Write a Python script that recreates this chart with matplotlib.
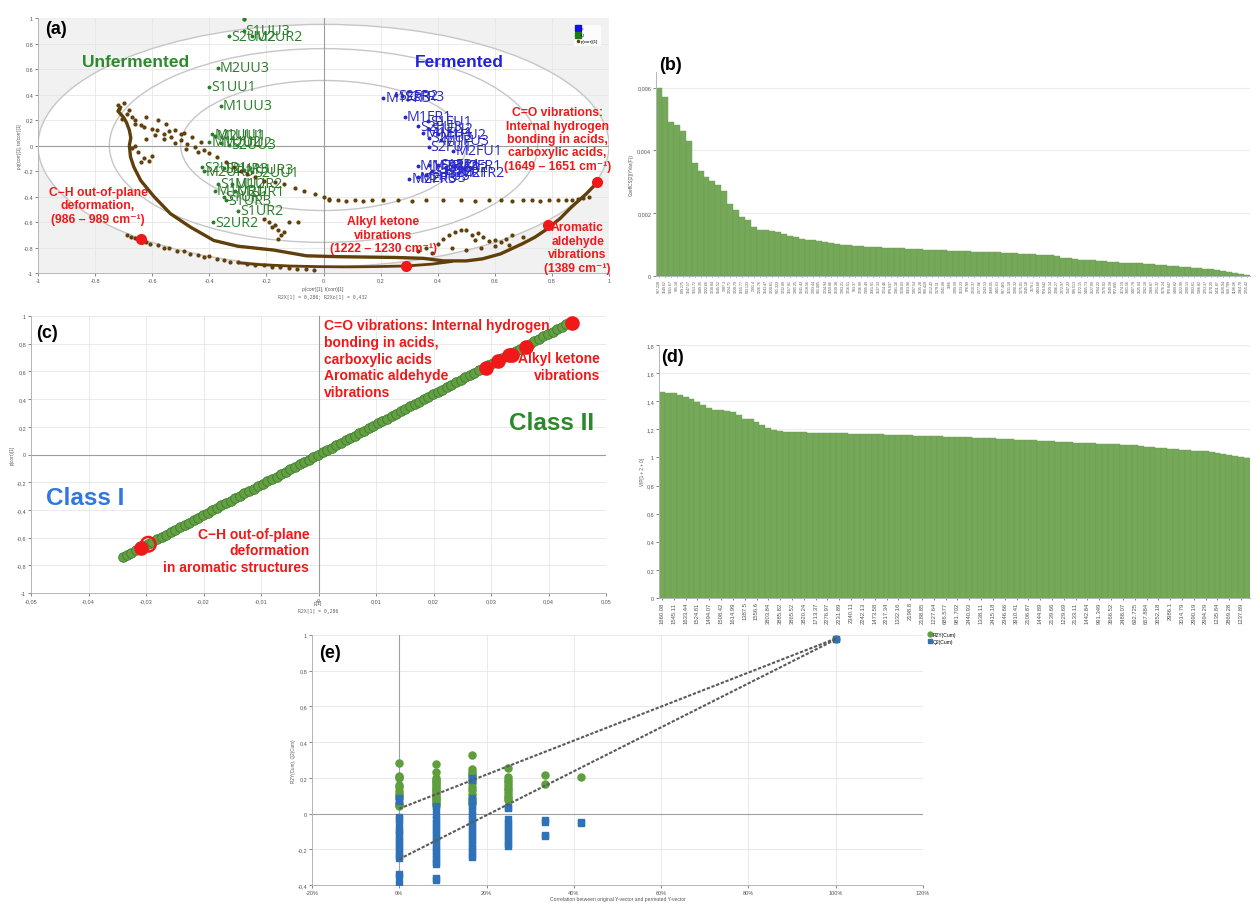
import matplotlib
matplotlib.use("Agg")
import matplotlib.pyplot as plt
from matplotlib.patches import Ellipse
from matplotlib.lines import Line2D

plt.rcParams['font.family'] = ['Liberation Sans', 'DejaVu Sans']

W, H = 1257, 904

# ---------------- (a) scores ----------------
unf_names = ["S1UU3", "S2UU2", "M2UR2", "M2UU3", "S1UU1", "M1UU3", "M1UU1", "M2UU1",
             "M1UU2", "M2UU2", "S2UU3", "S2UR1", "M2UR3", "S2UR3", "M1UR3", "S2UU1",
             "S1UU2", "M1UR2", "M1UR1", "M2UR1", "S1UR1", "S1UR3", "S1UR2", "S2UR2"]
unf_x = [-0.28, -0.33, -0.25, -0.37, -0.40, -0.36, -0.39, -0.38,
         -0.40, -0.36, -0.33, -0.425, -0.42, -0.35, -0.28, -0.25,
         -0.37, -0.32, -0.38, -0.31, -0.35, -0.34, -0.30, -0.386]
unf_y = [0.90, 0.855, 0.855, 0.61, 0.46, 0.31, 0.09, 0.075,
         0.03, 0.02, 0.005, -0.17, -0.20, -0.18, -0.19, -0.21,
         -0.30, -0.30, -0.355, -0.36, -0.40, -0.43, -0.51, -0.60]
unf_top_dot = (-0.28, 0.99)

fer_names = ["M1FR3", "S2FR2", "S2FR3", "M1FR1", "S1FU1", "S2FU3", "S1FU2", "M1FU1",
             "M1FU2", "S2FU2", "M1FU3", "S2FU1", "M2FU1", "M2FU2", "M1FR2", "S1FR1",
             "S1FR2", "M2FR1", "S1FR3", "S2FR1", "M2FR2", "M2FR3", "M2FU3", "S1FU3"]
fer_x = [0.209, 0.255, 0.275, 0.284, 0.365, 0.33, 0.37, 0.35,
         0.40, 0.37, 0.41, 0.368, 0.455, 0.37, 0.33, 0.40,
         0.43, 0.46, 0.38, 0.43, 0.47, 0.30, 0.33, 0.36]
fer_y = [0.374, 0.395, 0.385, 0.227, 0.19, 0.15, 0.13, 0.10,
         0.09, 0.06, 0.04, -0.01, -0.04, -0.155, -0.157, -0.15,
         -0.17, -0.16, -0.20, -0.21, -0.215, -0.26, -0.25, -0.235]

# ---------------- (a) loadings (brown) ----------------
load_main_x = [-0.71, -0.72, -0.70, -0.69, -0.68, -0.675, -0.68, -0.676, -0.664, -0.64,
               -0.594, -0.536, -0.466, -0.384, -0.30, -0.175, -0.06, 0.05, 0.15, 0.25,
               0.35, 0.42, 0.50, 0.557, 0.62, 0.697, 0.74, 0.783, 0.83, 0.868, 0.92, 0.96]
load_main_y = [0.30, 0.27, 0.22, 0.18, 0.12, 0.06, 0.00, -0.09, -0.17, -0.275,
               -0.40, -0.535, -0.64, -0.745, -0.79, -0.82, -0.865, -0.872, -0.875, -0.878,
               -0.885, -0.905, -0.905, -0.889, -0.85, -0.77, -0.72, -0.655, -0.57, -0.484, -0.38, -0.288]
load_low_x = [-0.30, -0.22, -0.12, -0.02, 0.08, 0.18, 0.29, 0.38, 0.45]
load_low_y = [-0.92, -0.935, -0.945, -0.95, -0.952, -0.95, -0.945, -0.93, -0.91]
load_edge_x = [-0.69, -0.676, -0.66, -0.62, -0.606, -0.58, -0.559, -0.54, -0.512, -0.49,
               -0.466, -0.44, -0.42, -0.40, -0.372, -0.35, -0.326, -0.30, -0.267, -0.24,
               -0.209, -0.18, -0.151, -0.12, -0.093, -0.06, -0.035]
load_edge_y = [-0.70, -0.72, -0.725, -0.755, -0.77, -0.78, -0.80, -0.80, -0.824, -0.83,
               -0.85, -0.855, -0.876, -0.87, -0.889, -0.90, -0.915, -0.91, -0.928, -0.935,
               -0.941, -0.95, -0.954, -0.96, -0.967, -0.97, -0.975]
load_diag_x = [-0.66, -0.64, -0.629, -0.60, -0.582, -0.56, -0.535, -0.50, -0.477, -0.45,
               -0.419, -0.40, -0.372, -0.34, -0.314, -0.29, -0.267, -0.24, -0.209, -0.17,
               -0.139, -0.10, -0.068, -0.03, 0.0, 0.02]
load_diag_y = [0.20, 0.16, 0.144, 0.13, 0.118, 0.09, 0.065, 0.04, 0.013, -0.01,
               -0.039, -0.06, -0.092, -0.13, -0.17, -0.20, -0.222, -0.25, -0.275, -0.29,
               -0.30, -0.33, -0.353, -0.38, -0.405, -0.42]
load_scat_x = [-0.72, -0.715, -0.70, -0.69, -0.705, -0.68, -0.67, -0.66, -0.62, -0.58,
               -0.55, -0.52, -0.49, -0.46, -0.43, -0.56, -0.52, -0.48, -0.44, -0.62,
               -0.65, -0.63, -0.60, -0.66, -0.67, -0.64, -0.61, -0.59, -0.54, -0.50,
               -0.21, -0.19, -0.17, -0.16, -0.15, -0.16, -0.14, -0.12, -0.09, -0.18]
load_scat_y = [0.32, 0.29, 0.33, 0.25, 0.21, 0.28, 0.22, 0.17, 0.22, 0.20,
               0.17, 0.12, 0.10, 0.07, 0.03, 0.05, 0.02, -0.03, -0.05, 0.05,
               -0.05, -0.10, -0.08, 0.00, -0.02, -0.13, -0.12, 0.08, 0.11, 0.09,
               -0.58, -0.60, -0.62, -0.66, -0.70, -0.73, -0.68, -0.60, -0.60, -0.64]
load_flat_x = [0.02, 0.05, 0.08, 0.11, 0.14, 0.17, 0.21, 0.26, 0.31, 0.36, 0.42, 0.48, 0.53,
               0.58, 0.62, 0.66, 0.70, 0.73, 0.76, 0.79, 0.82, 0.85, 0.87, 0.89, 0.91, 0.93]
load_flat_y = [-0.425, -0.43, -0.435, -0.43, -0.435, -0.43, -0.43, -0.43, -0.435, -0.43, -0.43,
               -0.43, -0.435, -0.43, -0.43, -0.435, -0.43, -0.43, -0.435, -0.43, -0.43, -0.43,
               -0.425, -0.42, -0.41, -0.40]
load_spike_x = [0.33, 0.36, 0.38, 0.40, 0.42, 0.44, 0.45, 0.46, 0.48, 0.50, 0.52, 0.53,
                0.54, 0.55, 0.56, 0.58, 0.60, 0.62, 0.64, 0.65, 0.66, 0.70, 0.50, 0.60]
load_spike_y = [-0.83, -0.80, -0.84, -0.77, -0.73, -0.70, -0.80, -0.68, -0.66, -0.665, -0.70, -0.74,
                -0.69, -0.80, -0.72, -0.75, -0.74, -0.76, -0.73, -0.78, -0.70, -0.72, -0.82, -0.79]
a_red_x = [-0.64, 0.29, 0.785, 0.957]
a_red_y = [-0.73, -0.945, -0.62, -0.29]
ell_a = [1.0, 0.75, 0.5]
ell_b = [0.95, 0.76, 0.51]
a_ticks = [-1, -0.8, -0.6, -0.4, -0.2, 0, 0.2, 0.4, 0.6, 0.8, 1]
a_ticklabels = ["-1", "-0.8", "-0.6", "-0.4", "-0.2", "0", "0.2", "0.4", "0.6", "0.8", "1"]

# ---------------- (b) coefficients ----------------
b_vals = [0.00600, 0.00570, 0.00490, 0.00481, 0.00462, 0.00430, 0.00360, 0.00336, 0.00315, 0.00304,
          0.00290, 0.00270, 0.00230, 0.00210, 0.00188, 0.00177, 0.00155, 0.00148, 0.00145, 0.00142,
          0.00139, 0.00135, 0.00129, 0.00123, 0.00118, 0.00116, 0.00114, 0.00110, 0.00107, 0.00104,
          0.00102, 0.00100, 0.00098, 0.00097, 0.00095, 0.00093, 0.00092, 0.00091, 0.00090, 0.00089,
          0.00088, 0.00088, 0.00087, 0.00086, 0.00085, 0.00084, 0.00083, 0.00083, 0.00082, 0.00081,
          0.00080, 0.00080, 0.00079, 0.00078, 0.00077, 0.00077, 0.00076, 0.00075, 0.00074, 0.00073,
          0.00072, 0.00071, 0.00070, 0.00069, 0.00068, 0.00067, 0.00066, 0.00064, 0.00057, 0.00056,
          0.00054, 0.00052, 0.00051, 0.00050, 0.00049, 0.00047, 0.00046, 0.00045, 0.00043, 0.00042,
          0.00041, 0.00040, 0.00038, 0.00037, 0.00036, 0.00034, 0.00033, 0.00031, 0.00030, 0.00029,
          0.00027, 0.00025, 0.00023, 0.00021, 0.00018, 0.00015, 0.00013, 0.00010, 0.00007, 0.00004]
b_labels = ["987.228", "1649.62", "1651.67", "985.18", "989.275", "1647.57", "1653.72", "1389.35", "1222.66", "1230.84",
            "1645.52", "1387.3", "1224.71", "1228.79", "1655.77", "983.133", "1391.4", "1226.76", "1643.47", "1220.61",
            "991.323", "1232.89", "1657.81", "1385.25", "1641.43", "1218.56", "1393.44", "981.085", "1234.94", "1659.86",
            "1639.38", "1383.21", "1216.51", "993.37", "1236.99", "1395.49", "1661.91", "1637.33", "1214.46", "979.037",
            "1381.16", "1239.03", "1663.96", "1397.54", "1635.28", "995.418", "1212.42", "1379.11", "1241.08", "1666",
            "1399.59", "1633.23", "976.99", "1210.37", "1377.06", "1243.13", "1668.05", "1401.63", "997.465", "1631.18",
            "1208.32", "1375.01", "1245.18", "1670.1", "1403.68", "974.942", "1629.14", "1206.27", "1372.97", "1247.23",
            "999.513", "1672.15", "1405.73", "1627.09", "1204.22", "1370.92", "1249.28", "972.895", "1674.19", "1001.56",
            "1407.78", "1625.04", "1202.18", "1368.87", "1251.32", "1676.24", "970.847", "1409.82", "1622.99", "1200.13",
            "1003.61", "1366.82", "1253.37", "1678.29", "1411.87", "1620.94", "968.799", "1198.08", "1364.78", "1255.42"]
b_yticks = [0, 0.002, 0.004, 0.006]
b_yticklabels = ["0", "0,002", "0,004", "0,006"]

# ---------------- (c) S-plot ----------------
c_x = [-0.0340, -0.0333, -0.0326, -0.0318, -0.0311, -0.0304, -0.0296, -0.0289, -0.0281,
       -0.0273, -0.0265, -0.0257, -0.0249, -0.0241, -0.0233, -0.0225, -0.0217, -0.0209, -0.0201,
       -0.0193, -0.0185, -0.0177, -0.0169, -0.0161, -0.0153, -0.0145, -0.0137, -0.0129, -0.0121,
       -0.0113, -0.0105, -0.0097, -0.0089, -0.0081, -0.0073, -0.0065, -0.0057, -0.0049, -0.0041,
       -0.0033, -0.0025, -0.0017, -0.0009, -0.0001, 0.0007, 0.0015, 0.0023, 0.0031, 0.0039,
       0.0047, 0.0055, 0.0063, 0.0071, 0.0079, 0.0087, 0.0095, 0.0103, 0.0111, 0.0119,
       0.0127, 0.0135, 0.0143, 0.0151, 0.0159, 0.0167, 0.0175, 0.0183, 0.0191, 0.0199,
       0.0207, 0.0215, 0.0223, 0.0231, 0.0239, 0.0247, 0.0255, 0.0263, 0.0271, 0.0279,
       0.0287, 0.0295, 0.0303, 0.0311, 0.0319, 0.0327, 0.0335, 0.0343, 0.0351, 0.0359,
       0.0367, 0.0375, 0.0383, 0.0391, 0.0399, 0.0407, 0.0415, 0.0423, 0.0431, 0.0440]
c_y = [-0.741, -0.726, -0.711, -0.693, -0.678, -0.663, -0.645, -0.630, -0.613,
       -0.595, -0.578, -0.560, -0.543, -0.525, -0.508, -0.491, -0.473, -0.456, -0.438,
       -0.421, -0.403, -0.386, -0.368, -0.351, -0.334, -0.316, -0.299, -0.281, -0.264,
       -0.246, -0.229, -0.211, -0.194, -0.177, -0.159, -0.142, -0.124, -0.107, -0.089,
       -0.072, -0.055, -0.037, -0.020, -0.002, 0.015, 0.033, 0.050, 0.068, 0.085,
       0.102, 0.120, 0.137, 0.155, 0.172, 0.190, 0.207, 0.225, 0.242, 0.259,
       0.277, 0.294, 0.312, 0.329, 0.347, 0.364, 0.382, 0.399, 0.416, 0.434,
       0.451, 0.469, 0.486, 0.504, 0.521, 0.538, 0.556, 0.573, 0.591, 0.608,
       0.626, 0.643, 0.661, 0.678, 0.695, 0.713, 0.730, 0.748, 0.765, 0.783,
       0.800, 0.818, 0.835, 0.852, 0.870, 0.887, 0.905, 0.922, 0.940, 0.959]
c_red_x = [-0.0308, 0.0292, 0.0313, 0.0332, 0.0336, 0.0360, 0.0440]
c_red_y = [-0.672, 0.626, 0.674, 0.715, 0.722, 0.777, 0.953]
c_ring_x = [-0.0296]
c_ring_y = [-0.648]
c_xticks = [-0.05, -0.04, -0.03, -0.02, -0.01, 0, 0.01, 0.02, 0.03, 0.04, 0.05]
c_xticklabels = ["-0,05", "-0,04", "-0,03", "-0,02", "-0,01", "0", "0,01", "0,02", "0,03", "0,04", "0,05"]
c_yticks = [-1, -0.8, -0.6, -0.4, -0.2, 0, 0.2, 0.4, 0.6, 0.8, 1]
c_yticklabels = ["-1", "-0,8", "-0,6", "-0,4", "-0,2", "0", "0,2", "0,4", "0,6", "0,8", "1"]

# ---------------- (d) VIP ----------------
d_vals = [1.467, 1.462, 1.455, 1.443, 1.430, 1.415, 1.395, 1.370, 1.352, 1.340,
          1.335, 1.328, 1.322, 1.300, 1.275, 1.270, 1.255, 1.232, 1.210, 1.192,
          1.187, 1.183, 1.180, 1.179, 1.178, 1.177, 1.176, 1.175, 1.174, 1.173,
          1.172, 1.171, 1.170, 1.169, 1.168, 1.167, 1.166, 1.164, 1.163, 1.162,
          1.160, 1.158, 1.157, 1.155, 1.154, 1.153, 1.152, 1.150, 1.149, 1.148,
          1.146, 1.145, 1.143, 1.141, 1.139, 1.137, 1.136, 1.134, 1.132, 1.130,
          1.127, 1.125, 1.123, 1.121, 1.119, 1.117, 1.115, 1.113, 1.111, 1.109,
          1.106, 1.104, 1.102, 1.100, 1.098, 1.097, 1.095, 1.093, 1.091, 1.089,
          1.085, 1.080, 1.076, 1.072, 1.068, 1.064, 1.061, 1.058, 1.055, 1.052,
          1.049, 1.046, 1.043, 1.039, 1.033, 1.026, 1.018, 1.012, 1.005, 0.998]
d_labels = ["1660.08", "1545.11", "1633.44", "1524.81", "1494.07", "1508.42", "1614.99", "1387.5", "1556.6", "3803.84",
            "3885.82", "3865.52", "3820.24", "1713.37", "2276.97", "2231.89", "2340.11", "2242.13", "1473.58", "2217.34",
            "1332.16", "2198.8", "2188.85", "1227.64", "686.577", "981.702", "2440.93", "1338.11", "2415.18", "2346.66",
            "3910.41", "2106.87", "1444.89", "2139.66", "1229.69", "2133.11", "1442.84", "991.349", "3666.52", "2488.07",
            "692.725", "657.884", "3652.18", "2986.1", "3014.79", "2990.19", "2994.29", "1235.84", "2869.28", "1237.89"]
d_yticks = [0, 0.2, 0.4, 0.6, 0.8, 1, 1.2, 1.4, 1.6, 1.8]
d_yticklabels = ["0", "0,2", "0,4", "0,6", "0,8", "1", "1,2", "1,4", "1,6", "1,8"]

# ---------------- (e) permutation test ----------------
e_r2_x = ([0] * 13 + [8.33] * 18 + [16.7] * 13 + [25] * 11 + [33.3] * 2 + [41.7] + [100])
e_r2_y = [0.282, 0.211, 0.205, 0.200, 0.160, 0.150, 0.125, 0.110, 0.100, 0.090, 0.060, 0.050, 0.045,
          0.276, 0.234, 0.200, 0.19, 0.18, 0.17, 0.16, 0.15, 0.14, 0.13, 0.12, 0.11, 0.10, 0.09, 0.08, 0.07, 0.06, 0.05,
          0.327, 0.25, 0.235, 0.22, 0.21, 0.19, 0.17, 0.15, 0.13, 0.11, 0.09, 0.07, 0.06,
          0.258, 0.205, 0.19, 0.175, 0.16, 0.145, 0.13, 0.115, 0.10, 0.085, 0.075,
          0.217, 0.168,
          0.205,
          0.98]
e_q2_x = ([0] * 18 + [8.33] * 19 + [16.7] * 19 + [25] * 11 + [33.3] * 4 + [41.7] * 2 + [100])
e_q2_y = [0.085, 0.070, -0.020, -0.030, -0.060, -0.090, -0.100, -0.120, -0.140, -0.160, -0.180, -0.200, -0.220,
          -0.240, -0.250, -0.340, -0.350, -0.390,
          0.043, 0.025, -0.01, -0.03, -0.05, -0.07, -0.09, -0.11, -0.13, -0.15, -0.17, -0.19, -0.21, -0.23,
          -0.25, -0.27, -0.285, -0.36, -0.37,
          0.198, 0.19, 0.09, 0.06, 0.045, 0.02, -0.01, -0.03, -0.05, -0.07, -0.09, -0.11, -0.13, -0.15,
          -0.17, -0.19, -0.21, -0.23, -0.245,
          0.038, 0.03, -0.03, -0.05, -0.07, -0.09, -0.11, -0.13, -0.15, -0.17, -0.18,
          -0.035, -0.045, -0.12, -0.125,
          -0.045, -0.052,
          0.975]
e_r2_line_x = [0, 100]
e_r2_line_y = [0.028, 0.98]
e_q2_line_x = [0, 100]
e_q2_line_y = [-0.255, 0.975]
e_xticks = [-20, 0, 20, 40, 60, 80, 100, 120]
e_xticklabels = ["-20%", "0%", "20%", "40%", "60%", "80%", "100%", "120%"]
e_yticks = [-0.4, -0.2, 0, 0.2, 0.4, 0.6, 0.8, 1]
e_yticklabels = ["-0,4", "-0,2", "0", "0,2", "0,4", "0,6", "0,8", "1"]

# ---------------- colours ----------------
C_UNF = "#2b7d2b"
C_FER = "#2a2ac4"
C_BROWN = "#603f0a"
C_RED = "#f01818"
C_BAR = "#76a85a"
C_GRID = "#e6e6e6"

fig = plt.figure(figsize=(W / 100, H / 100), dpi=100)


def pix_axes(l, t, r, b):
    return fig.add_axes([l / W, 1 - b / H, (r - l) / W, (b - t) / H])


def ftext(x, y, s, **kw):
    fig.text(x / W, 1 - y / H, s, **kw)


def base_style(ax):
    for s in ("top", "right"):
        ax.spines[s].set_visible(False)
    for s in ("left", "bottom"):
        ax.spines[s].set_color("#b5b5b5")
        ax.spines[s].set_linewidth(0.7)
    ax.tick_params(labelsize=4, colors="#555555", length=2, width=0.5, pad=1.5)


bold = dict(fontweight="bold")

# =============== (a) ===============
axA = pix_axes(38, 19, 609, 274)
base_style(axA)
axA.set_xlim(-1, 1)
axA.set_ylim(-1, 1)
axA.set_facecolor("#f1f1f1")
axA.add_patch(Ellipse((0, 0), 2 * ell_a[0], 2 * ell_b[0], facecolor="white", edgecolor="none", zorder=0.2))
for t in a_ticks:
    if t not in (-1, 0, 1):
        axA.axvline(t, color=C_GRID, lw=0.6, zorder=0.4)
        axA.axhline(t, color=C_GRID, lw=0.6, zorder=0.4)
for ea, eb in zip(ell_a, ell_b):
    axA.add_patch(Ellipse((0, 0), 2 * ea, 2 * eb, facecolor="none", edgecolor="#c6c6c6", lw=1.0, zorder=0.6))
axA.axvline(0, color="#9c9c9c", lw=0.8, zorder=0.7)
axA.axhline(0, color="#9c9c9c", lw=0.8, zorder=0.7)
axA.set_xticks(a_ticks)
axA.set_xticklabels(a_ticklabels)
axA.set_yticks(a_ticks)
axA.set_yticklabels(a_ticklabels)

lab_font = ['Open Sans', 'DejaVu Sans']
axA.plot(*unf_top_dot, 'o', ms=2.2, color=C_UNF, zorder=2)
for n, x, y in zip(unf_names, unf_x, unf_y):
    axA.plot(x, y, 'o', ms=1.8, color=C_UNF, zorder=2)
    axA.annotate(n, (x, y), xytext=(1.5, 0), textcoords='offset points', va='center', ha='left',
                 fontsize=10.3, color=C_UNF, family=lab_font, zorder=2)
for n, x, y in zip(fer_names, fer_x, fer_y):
    axA.plot(x, y, 'o', ms=1.8, color=C_FER, zorder=2)
    axA.annotate(n, (x, y), xytext=(1.5, 0), textcoords='offset points', va='center', ha='left',
                 fontsize=10.3, color=C_FER, family=lab_font, zorder=2)

axA.plot(load_main_x, load_main_y, '-', color=C_BROWN, lw=2.4, zorder=3, solid_capstyle='round')
axA.plot(load_low_x, load_low_y, '-', color=C_BROWN, lw=2.0, zorder=3, solid_capstyle='round')
for lx, ly in [(load_edge_x, load_edge_y), (load_diag_x, load_diag_y), (load_scat_x, load_scat_y),
               (load_flat_x, load_flat_y), (load_spike_x, load_spike_y)]:
    axA.plot(lx, ly, 'o', ms=2.0, color=C_BROWN, lw=0, zorder=3)
axA.plot(a_red_x, a_red_y, 'o', ms=7, color=C_RED, zorder=4)

axA.text(-0.66, 0.66, "Unfermented", color="#2e8a2e", fontsize=12.5, ha='center', va='center', zorder=5, **bold)
axA.text(0.477, 0.66, "Fermented", color="#2020e0", fontsize=12.5, ha='center', va='center', zorder=5, **bold)
axA.text(-0.79, -0.47, "C\u2212H out-of-plane\ndeformation,\n(986 \u2013 989 cm\u207b\u00b9)", color=C_RED,
         fontsize=8.7, ha='center', va='center', linespacing=1.15, zorder=5, **bold)
axA.text(0.21, -0.70, "Alkyl ketone\nvibrations\n(1222 \u2013 1230 cm\u207b\u00b9)", color=C_RED,
         fontsize=8.7, ha='center', va='center', linespacing=1.15, zorder=5, **bold)
axA.text(0.89, -0.80, "Aromatic\naldehyde\nvibrations\n(1389 cm\u207b\u00b9)", color=C_RED,
         fontsize=8.7, ha='center', va='center', linespacing=1.15, zorder=5, **bold)
axA.text(0.82, 0.05, "C=O vibrations:\nInternal hydrogen\nbonding in acids,\ncarboxylic acids,\n(1649 \u2013 1651 cm\u207b\u00b9)",
         color=C_RED, fontsize=8.7, ha='center', va='center', linespacing=1.15, zorder=5, **bold)

leg_h = [Line2D([], [], marker='s', ls='', color='#1010e8', ms=4),
         Line2D([], [], marker='s', ls='', color='#1a7a1a', ms=4),
         Line2D([], [], marker='o', ls='', color=C_BROWN, ms=1.5)]
leg = axA.legend(leg_h, ["F", "U", "p(corr)[1]"], loc='upper right', bbox_to_anchor=(0.99, 0.985),
                 fontsize=3.2, frameon=True, handlelength=0.8, handletextpad=0.3, borderpad=0.6,
                 labelspacing=0.5, fancybox=False)
leg.get_frame().set_edgecolor("#eeeeee")
leg.get_frame().set_linewidth(0.5)
leg.set_zorder(6)

axA.set_ylabel("pq(corr)[1], to(corr)[1]", fontsize=3.3, color="#555555", labelpad=1)
ftext(323, 290, "p(corr)[1], t(corr)[1]", fontsize=3.5, color="#555555", ha='center', va='center')
ftext(323, 297, "R2X[1] = 0,286; R2Xo[1] = 0,432", fontsize=3.5, color="#666666", ha='center', va='center',
      family='DejaVu Sans Mono')
ftext(56, 29, "(a)", fontsize=13, ha='center', va='center', **bold)

# =============== (b) ===============
axB = pix_axes(656, 73, 1250, 277)
base_style(axB)
nb = len(b_vals)
axB.bar(range(nb), b_vals, width=1.0, color=C_BAR, edgecolor="#6c9d51", linewidth=0.3)
axB.set_xlim(-0.5, nb - 0.5)
axB.set_ylim(0, 0.0065)
axB.set_yticks(b_yticks)
axB.set_yticklabels(b_yticklabels)
axB.yaxis.grid(True, color="#ececec", lw=0.8)
axB.set_axisbelow(True)
axB.set_xticks(range(nb))
axB.set_xticklabels(b_labels[:nb], rotation=90, fontsize=2.6)
axB.tick_params(axis='x', length=1, pad=1)
axB.set_ylabel("CoeffCS[2](YVar(F))", fontsize=3.3, color="#555555", labelpad=2)
ftext(671, 66, "(b)", fontsize=13, ha='center', va='center', **bold)

# =============== (c) ===============
axC = pix_axes(31, 317, 606, 594)
base_style(axC)
axC.set_xlim(-0.05, 0.05)
axC.set_ylim(-1, 1)
axC.set_xticks(c_xticks)
axC.set_xticklabels(c_xticklabels)
axC.set_yticks(c_yticks)
axC.set_yticklabels(c_yticklabels)
axC.grid(True, color=C_GRID, lw=0.6)
axC.set_axisbelow(True)
axC.axvline(0, color="#9c9c9c", lw=0.8, zorder=1)
axC.axhline(0, color="#9c9c9c", lw=0.8, zorder=1)
nc = min(len(c_x), len(c_y))
axC.scatter(c_x[:nc], c_y[:nc], s=48, facecolor="#62a043", edgecolor="#3f7c2c", linewidth=0.6, zorder=2)
axC.scatter(c_red_x, c_red_y, s=90, facecolor=C_RED, edgecolor=C_RED, zorder=3)
axC.scatter(c_ring_x, c_ring_y, s=110, facecolor="none", edgecolor=C_RED, linewidth=1.8, zorder=3)
axC.text(0.0009, 0.985, "C=O vibrations: Internal hydrogen\nbonding in acids,\ncarboxylic acids\nAromatic aldehyde\nvibrations",
         color=C_RED, fontsize=10, ha='left', va='top', linespacing=1.25, zorder=5, **bold)
axC.text(0.0490, 0.745, "Alkyl ketone\nvibrations", color=C_RED, fontsize=10, ha='right', va='top',
         multialignment='right', linespacing=1.25, zorder=5, **bold)
axC.text(0.0405, 0.231, "Class II", color="#2a8a2a", fontsize=17.5, ha='center', va='center', zorder=5, **bold)
axC.text(-0.0405, -0.31, "Class I", color="#2f78e0", fontsize=17.5, ha='center', va='center', zorder=5, **bold)
axC.text(-0.0016, -0.52, "C\u2212H out-of-plane\ndeformation\nin aromatic structures", color=C_RED, fontsize=10,
         ha='right', va='top', multialignment='right', linespacing=1.25, zorder=5, **bold)
axC.set_ylabel("p(corr)[1]", fontsize=3.3, color="#555555", labelpad=1)
ftext(318, 604, "p[1]", fontsize=3.5, color="#555555", ha='center', va='center')
ftext(318, 611, "R2X[1] = 0,286", fontsize=3.5, color="#666666", ha='center', va='center', family='DejaVu Sans Mono')
ftext(47, 333, "(c)", fontsize=13, ha='center', va='center', **bold)

# =============== (d) ===============
axD = pix_axes(659, 346, 1250, 599)
base_style(axD)
nd = len(d_vals)
axD.bar(range(nd), d_vals, width=1.0, color=C_BAR, edgecolor="#6c9d51", linewidth=0.3)
axD.set_xlim(-0.5, nd - 0.5)
axD.set_ylim(0, 1.8)
axD.set_yticks(d_yticks)
axD.set_yticklabels(d_yticklabels)
axD.yaxis.grid(True, color="#ececec", lw=0.8)
axD.set_axisbelow(True)
axD.set_xticks(list(range(0, nd, 2))[:len(d_labels)])
axD.set_xticklabels(d_labels[:len(range(0, nd, 2))], rotation=90, fontsize=4.2)
axD.tick_params(axis='x', length=1.5, pad=1)
axD.set_ylabel("VIP[1 + 2 + 0]", fontsize=3.3, color="#555555", labelpad=1)
ftext(673, 358, "(d)", fontsize=13, ha='center', va='center', **bold)

# =============== (e) ===============
axE = pix_axes(312, 636, 923, 886)
base_style(axE)
axE.set_xlim(-20, 120)
axE.set_ylim(-0.4, 1)
axE.set_xticks(e_xticks)
axE.set_xticklabels(e_xticklabels)
axE.set_yticks(e_yticks)
axE.set_yticklabels(e_yticklabels)
axE.grid(True, color=C_GRID, lw=0.6)
axE.set_axisbelow(True)
axE.axvline(0, color="#a0a0a0", lw=0.8, zorder=1)
axE.axhline(0, color="#a0a0a0", lw=0.8, zorder=1)
axE.scatter(e_r2_x[:len(e_r2_y)], e_r2_y[:len(e_r2_x)], s=26, marker='o', color="#5f9e3e", zorder=3)
axE.scatter(e_q2_x[:len(e_q2_y)], e_q2_y[:len(e_q2_x)], s=22, marker='s', color="#2f72b8", zorder=3)
axE.plot(e_r2_line_x, e_r2_line_y, color="#5a5a5a", lw=1.5, ls=(0, (1.6, 0.8)), zorder=4)
axE.plot(e_q2_line_x, e_q2_line_y, color="#5a5a5a", lw=1.5, ls=(0, (1.6, 0.8)), zorder=4)
leg_e = [Line2D([], [], marker='o', ls='', color="#5f9e3e", ms=3.5),
         Line2D([], [], marker='s', ls='', color="#2f72b8", ms=3.2)]
axE.legend(leg_e, ["R2Y(Cum)", "Q2(Cum)"], loc='upper left', bbox_to_anchor=(1.005, 1.02), fontsize=3.6,
           frameon=False, handlelength=0.6, handletextpad=0.3, labelspacing=0.4, borderaxespad=0)
axE.set_ylabel("R2Y(Cum), Q2(Cum)", fontsize=3.3, color="#555555", labelpad=1)
axE.set_xlabel("Correlation between original Y-vector and permuted Y-vector", fontsize=3.6, color="#555555",
               labelpad=1)
ftext(330, 654, "(e)", fontsize=13, ha='center', va='center', **bold)

fig.savefig("out.png", dpi=100)
